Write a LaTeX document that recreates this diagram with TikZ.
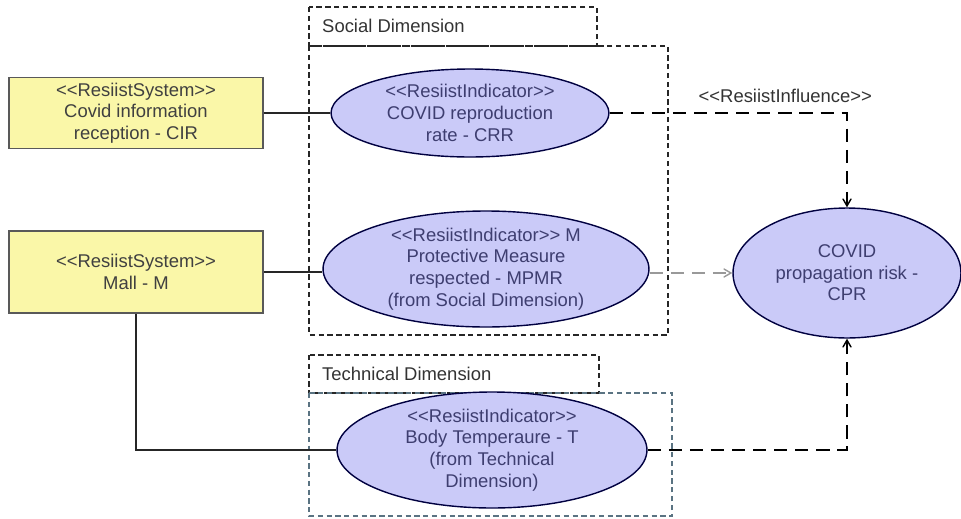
\documentclass[tikz,border=0pt]{standalone}
\usepackage{fontspec}
\setmainfont{Liberation Sans}
\usetikzlibrary{arrows,shapes.geometric,positioning}
\definecolor{sysyellow}{RGB}{250,247,168}
\definecolor{indblue}{RGB}{202,202,248}
\definecolor{indtext}{RGB}{62,62,112}
\definecolor{pkggrey}{RGB}{90,115,130}
\newcommand{\stereo}[1]{{<}{<}#1{>}{>}}
\tikzset{
  sysbox/.style={draw=black!65,fill=sysyellow,line width=1pt,align=center,text=black!75,inner sep=0pt},
  indic/.style={ellipse,draw=black!75!blue,fill=indblue,line width=0.8pt,inner sep=0pt,align=center,text=indtext},
  pkg/.style={draw=black!85,line width=0.8pt,dash pattern=on 3pt off 2pt},
  infl/.style={->,>=angle 60,line width=0.8pt,dash pattern=on 7.5pt off 4.5pt},
  assoc/.style={line width=0.9pt,draw=black!85}
}
\begin{document}
\begin{tikzpicture}[x=0.02cm,y=-0.02cm,font=\fontsize{10.5}{12.3}\selectfont]
  \useasboundingbox (0,0) rectangle (961,518);
  % packages
  \draw[pkg] (309,7) rectangle (597,46);
  \draw[pkg] (309,46) rectangle (668,335);
  \node[anchor=west,text=black!80] (soclabel) at (316,26) {Social Dimension};
  \draw[pkg] (309,355) rectangle (599,393);
  \draw[pkg,draw=pkggrey] (309,393) rectangle (672,516);
  \node[anchor=west,text=black!80] (techlabel) at (316,374) {Technical Dimension};

  % systems
  \node[sysbox,minimum width=5.08cm,minimum height=1.42cm] (cir) at (136,113)
    {\stereo{ResiistSystem}\\Covid information\\reception - CIR};
  \node[sysbox,minimum width=5.08cm,minimum height=1.64cm] (mall) at (136,272)
    {\stereo{ResiistSystem}\\Mall - M};

  % indicators
  \node[indic,minimum width=5.56cm,minimum height=1.76cm] (crr) at (470,113)
    {\stereo{ResiistIndicator}\\COVID reproduction\\rate - CRR};
  \node[indic,minimum width=6.52cm,minimum height=2.08cm] (mpmr) at (486,269)
    {\stereo{ResiistIndicator} M\\Protective Measure\\respected - MPMR\\(from Social Dimension)};
  \node[indic,minimum width=6.2cm,minimum height=1.8cm] (temp) at (492,450)
    {\stereo{ResiistIndicator}\\Body Temperaure - T\\(from Technical\\Dimension)};
  \node[indic,minimum width=4.56cm,minimum height=2.6cm] (cpr) at (847,273)
    {COVID\\propagation risk -\\CPR};

  % associations
  \draw[assoc] (cir.east) -- (crr.west);
  \draw[assoc] (mall.east) -- (mall.east -| mpmr.west);
  \draw[assoc] (mall.south) |- (temp.west);

  % influences
  \draw[infl] (crr.east) -| node[pos=0.37,above=2pt,text=black!80] (infllabel) {\stereo{ResiistInfluence}} (cpr.north);
  \draw[infl,draw=black!40] (mpmr.east |- cpr.west) -- (cpr.west);
  \draw[infl] (temp.east) -| (cpr.south);
\end{tikzpicture}
\end{document}
